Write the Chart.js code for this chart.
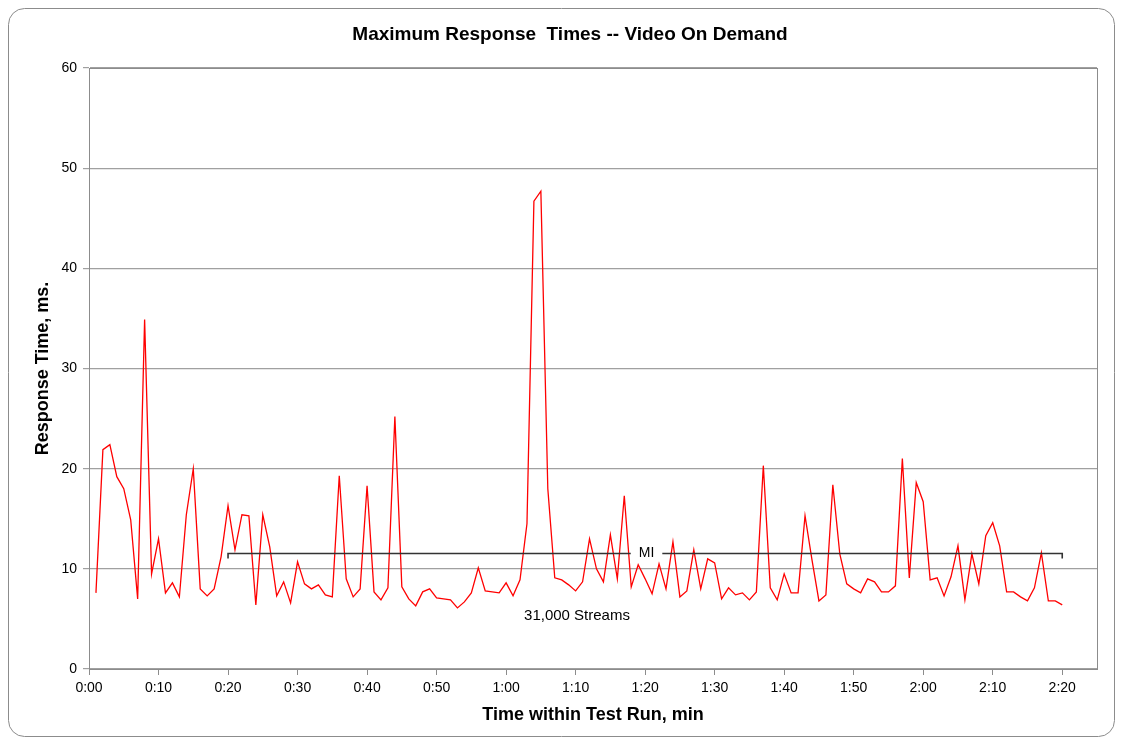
<!DOCTYPE html>
<html>
<head>
<meta charset="utf-8">
<title>Maximum Response Times -- Video On Demand</title>
<script src="https://cdn.jsdelivr.net/npm/chart.js"></script>
<style>
  html, body { margin: 0; padding: 0; background: #fff; }
  #wrap { width: 1123px; height: 742px; }
</style>
</head>
<body>
<div id="wrap"><canvas id="chart" width="1123" height="742"></canvas></div>
<script>
// --- data: max response time (ms), one sample per minute of the run ---
const responseTimes = [
  7.6, 21.9, 22.4, 19.2, 18.0, 14.9, 7.0, 34.9, 9.5, 13.0,
  7.6, 8.6, 7.2, 15.4, 20.0, 8.0, 7.3, 8.0, 11.2, 16.3,
  11.9, 15.4, 15.3, 6.4, 15.4, 12.2, 7.3, 8.7, 6.6, 10.7,
  8.5, 8.0, 8.4, 7.4, 7.2, 19.3, 9.0, 7.2, 8.0, 18.3,
  7.7, 6.9, 8.1, 25.2, 8.2, 7.0, 6.3, 7.7, 8.0, 7.1,
  7.0, 6.9, 6.1, 6.7, 7.6, 10.1, 7.8, 7.7, 7.6, 8.6,
  7.3, 8.9, 14.5, 46.7, 47.7, 18.0, 9.1, 8.9, 8.4, 7.8,
  8.7, 13.0, 10.0, 8.7, 13.4, 9.0, 17.3, 8.2, 10.4, 9.0,
  7.5, 10.5, 8.0, 12.7, 7.2, 7.8, 11.9, 8.0, 11.0, 10.6,
  7.0, 8.1, 7.4, 7.6, 6.9, 7.7, 20.3, 8.1, 6.9, 9.5,
  7.6, 7.6, 15.3, 10.9, 6.8, 7.4, 18.4, 11.5, 8.5, 8.0,
  7.6, 9.0, 8.7, 7.7, 7.7, 8.3, 21.0, 9.1, 18.6, 16.7,
  8.9, 9.1, 7.3, 9.2, 12.3, 6.9, 11.5, 8.5, 13.3, 14.6,
  12.3, 7.7, 7.7, 7.2, 6.8, 8.1, 11.6, 6.8, 6.8, 6.4
];
const sampleMinutes = responseTimes.map((_, i) => i + 1);

const xTickMinutes = [0, 10, 20, 30, 40, 50, 60, 70, 80, 90, 100, 110, 120, 130, 140];
const yTickValues = [0, 10, 20, 30, 40, 50, 60];

// measurement interval bracket
const bracketFrom = 20;
const bracketTo = 140;
const bracketLevel = 11.6;
const bracketLabel = 'MI';
const bracketLabelAt = 80.2;
const streamsText = '31,000 Streams';
const streamsAt = 70.2;
const streamsLevel = 5.3;

const chartTitle = 'Maximum Response  Times -- Video On Demand';
const FONT = '"Liberation Sans", Arial, sans-serif';

function fmtMinutes(m) {
    const h = Math.floor(m / 60);
    const mm = m % 60;
    return h + ':' + String(mm).padStart(2, '0');
}

// outer rounded frame, title, plot border
const framePlugin = {
    id: 'frame',
    beforeDraw(chart) {
        const ctx = chart.ctx;
        ctx.save();
        ctx.fillStyle = '#fff';
        ctx.fillRect(0, 0, chart.width, chart.height);
        ctx.strokeStyle = '#8c8c8c';
        ctx.lineWidth = 1;
        ctx.beginPath();
        ctx.roundRect(8.5, 8.5, 1106, 728, 16);
        ctx.stroke();
        ctx.fillStyle = '#000';
        ctx.font = 'bold 19px ' + FONT;
        ctx.textAlign = 'center';
        ctx.textBaseline = 'middle';
        ctx.fillText(chartTitle, 570, 35);
        ctx.restore();
    },
    beforeDatasetsDraw(chart) {
        const {ctx, chartArea: a} = chart;
        ctx.save();
        ctx.strokeStyle = '#8c8c8c';
        ctx.lineWidth = 1;
        ctx.strokeRect(a.left + 0.5, a.top + 0.5, a.right - a.left, a.bottom - a.top);
        ctx.restore();
    }
};

const bracketPlugin = {
    id: 'bracket',
    afterDatasetsDraw(chart) {
        const {ctx, scales: {x, y}} = chart;
        const x0 = x.getPixelForValue(bracketFrom);
        const x1 = x.getPixelForValue(bracketTo);
        const yb = Math.round(y.getPixelForValue(bracketLevel)) + 0.5;
        const xl = x.getPixelForValue(bracketLabelAt);
        ctx.save();
        ctx.font = '14px ' + FONT;
        const half = ctx.measureText(bracketLabel).width / 2 + 8;
        ctx.strokeStyle = '#333';
        ctx.lineWidth = 1.6;
        ctx.beginPath();
        ctx.moveTo(x0, yb + 5);
        ctx.lineTo(x0, yb);
        ctx.lineTo(xl - half, yb);
        ctx.moveTo(xl + half, yb);
        ctx.lineTo(x1, yb);
        ctx.lineTo(x1, yb + 5);
        ctx.stroke();
        ctx.fillStyle = '#000';
        ctx.textAlign = 'center';
        ctx.textBaseline = 'middle';
        ctx.fillText(bracketLabel, xl, yb);
        ctx.font = '15px ' + FONT;
        ctx.fillText(streamsText, x.getPixelForValue(streamsAt), y.getPixelForValue(streamsLevel));
        ctx.restore();
    }
};

const ctx = document.getElementById('chart').getContext('2d');
new Chart(ctx, {
    type: 'line',
    data: {
        labels: sampleMinutes,
        datasets: [{
            label: 'Max response time',
            data: sampleMinutes.map((m, i) => ({x: m, y: responseTimes[i]})),
            borderColor: '#ff0000',
            borderWidth: 1.3,
            pointRadius: 0,
            tension: 0,
            fill: false
        }]
    },
    options: {
        responsive: false,
        animation: false,
        devicePixelRatio: 1,
        layout: { padding: { left: 20, right: 26, top: 68, bottom: 0 } },
        plugins: {
            legend: { display: false },
            tooltip: { enabled: false },
            title: { display: false }
        },
        scales: {
            x: {
                type: 'linear',
                min: 0,
                max: 145,
                afterBuildTicks: s => { s.ticks = xTickMinutes.map(v => ({value: v})); },
                afterFit: s => { s.height = 73; },
                ticks: {
                    callback: v => fmtMinutes(v),
                    color: '#000',
                    font: { family: FONT, size: 14 },
                    padding: 5,
                    maxRotation: 0,
                    autoSkip: false
                },
                grid: { drawOnChartArea: false, drawTicks: true, tickLength: 6, color: '#8c8c8c' },
                border: { color: '#8c8c8c' },
                title: {
                    display: true,
                    text: 'Time within Test Run, min',
                    color: '#000',
                    font: { family: FONT, size: 18, weight: 'bold' },
                    padding: { top: 4, bottom: 16 }
                }
            },
            y: {
                min: 0,
                max: 60,
                afterBuildTicks: s => { s.ticks = yTickValues.map(v => ({value: v})); },
                afterFit: s => { s.width = 69; },
                ticks: {
                    color: '#000',
                    font: { family: FONT, size: 14 },
                    padding: 6
                },
                grid: { color: '#a0a0a0', lineWidth: 1.2, tickLength: 6 },
                border: { color: '#8c8c8c' },
                title: {
                    display: true,
                    text: 'Response Time, ms.',
                    color: '#000',
                    font: { family: FONT, size: 18, weight: 'bold' },
                    padding: { top: 12, bottom: 4 }
                }
            }
        }
    },
    plugins: [framePlugin, bracketPlugin]
});
</script>
</body>
</html>
